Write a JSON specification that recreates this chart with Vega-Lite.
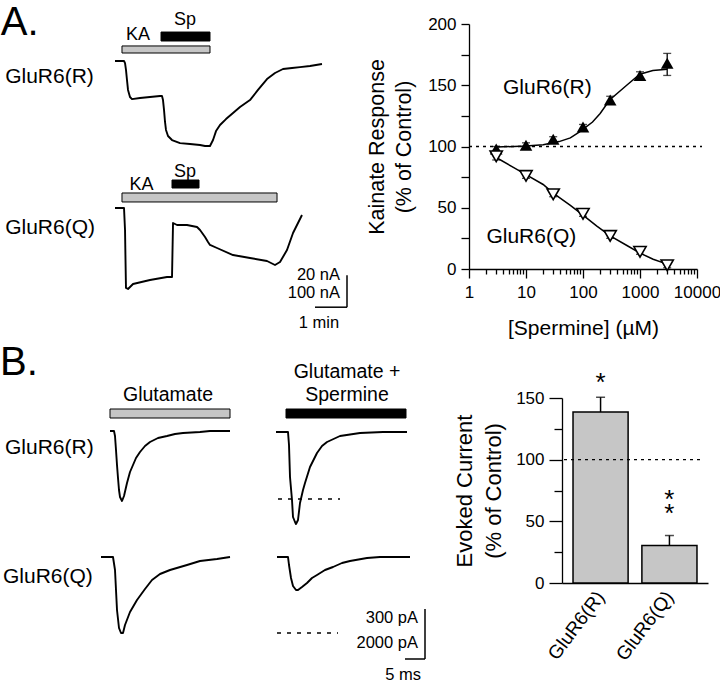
{
 "$schema": "https://vega.github.io/schema/vega-lite/v6.json",
 "width": 720,
 "height": 684,
 "padding": 0,
 "autosize": {"type": "none"},
 "background": "white",
 "config": {
   "font": "Liberation Sans",
   "view": {"stroke": null},
   "axis": {"grid": false, "domainColor": "black", "tickColor": "black", "labelColor": "black", "titleColor": "black", "titleFontWeight": "normal", "domainWidth": 1.3, "tickWidth": 1.3, "labelFont": "Liberation Sans", "titleFont": "Liberation Sans"},
   "text": {"font": "Liberation Sans", "color": "black"}
 },
 "datasets": {
   "aR": [{"t":0,"i":0},{"t":16.9,"i":0},{"t":18.8,"i":-1.3},{"t":20.6,"i":-5.6},{"t":22.5,"i":-11.9},{"t":24.4,"i":-18.1},{"t":28.1,"i":-22.5},{"t":31.9,"i":-23.8},{"t":46.9,"i":-23.1},{"t":65.6,"i":-22.5},{"t":84.4,"i":-21.9},{"t":88.1,"i":-21.9},{"t":90,"i":-24.4},{"t":91.9,"i":-30.6},{"t":93.8,"i":-38.1},{"t":95.6,"i":-43.1},{"t":99.4,"i":-46.9},{"t":106.9,"i":-49.4},{"t":121.9,"i":-51.3},{"t":140.6,"i":-51.9},{"t":159.4,"i":-52.5},{"t":168.8,"i":-53.1},{"t":178.1,"i":-53.1},{"t":183.8,"i":-49.4},{"t":189.4,"i":-43.8},{"t":196.9,"i":-40},{"t":208.1,"i":-36.3},{"t":221.3,"i":-32.5},{"t":234.4,"i":-28.8},{"t":253.1,"i":-24.4},{"t":268.1,"i":-18.1},{"t":285,"i":-11.3},{"t":300,"i":-7.5},{"t":315,"i":-5},{"t":331.9,"i":-4.4},{"t":346.9,"i":-3.8},{"t":365.6,"i":-3.1},{"t":388.1,"i":-1.9}],
   "aQ": [{"t":0,"i":0},{"t":16.9,"i":0},{"t":18.8,"i":-68.8},{"t":19.7,"i":-162.5},{"t":20.6,"i":-250},{"t":24.4,"i":-253},{"t":33.8,"i":-237.5},{"t":65.6,"i":-225},{"t":97.5,"i":-215.6},{"t":106.9,"i":-215.6},{"t":108.8,"i":-46.9},{"t":116.3,"i":-53.1},{"t":135,"i":-53.1},{"t":153.8,"i":-59.4},{"t":159.4,"i":-68.8},{"t":168.8,"i":-90.6},{"t":174.4,"i":-106.3},{"t":178.1,"i":-115.6},{"t":191.3,"i":-125},{"t":221.3,"i":-146.9},{"t":253.1,"i":-156.3},{"t":285,"i":-165.6},{"t":300,"i":-178.1},{"t":309.4,"i":-168.8},{"t":322.5,"i":-131.3},{"t":333.8,"i":-78.1},{"t":350.6,"i":-21.9}],
   "dose": [{"s":"R","c":3,"v":98,"lo":96,"hi":100},{"s":"R","c":10,"v":101,"lo":99,"hi":103},{"s":"R","c":30,"v":106,"lo":104,"hi":108},{"s":"R","c":100,"v":116,"lo":114,"hi":118},{"s":"R","c":300,"v":138,"lo":135,"hi":141},{"s":"R","c":1000,"v":158,"lo":155,"hi":161},{"s":"R","c":3000,"v":168,"lo":158,"hi":176},{"s":"Q","c":3,"v":92,"lo":89,"hi":95},{"s":"Q","c":10,"v":76,"lo":74,"hi":78},{"s":"Q","c":30,"v":61,"lo":59,"hi":63},{"s":"Q","c":100,"v":45,"lo":43,"hi":47},{"s":"Q","c":300,"v":27,"lo":25,"hi":29},{"s":"Q","c":1000,"v":14,"lo":12,"hi":16},{"s":"Q","c":3000,"v":3,"lo":1,"hi":5}],
   "fit": [{"s":"R","c":3,"v":99.5},{"s":"R","c":10,"v":100.5},{"s":"R","c":20,"v":101.5},{"s":"R","c":38,"v":104},{"s":"R","c":60,"v":107},{"s":"R","c":87,"v":112},{"s":"R","c":147,"v":120},{"s":"R","c":200,"v":127},{"s":"R","c":293,"v":138},{"s":"R","c":584,"v":150},{"s":"R","c":991,"v":159},{"s":"R","c":1680,"v":162},{"s":"R","c":3000,"v":163},{"s":"Q","c":3,"v":91},{"s":"Q","c":6,"v":83},{"s":"Q","c":10,"v":77},{"s":"Q","c":20,"v":69},{"s":"Q","c":30,"v":62},{"s":"Q","c":60,"v":52},{"s":"Q","c":100,"v":44},{"s":"Q","c":175,"v":35},{"s":"Q","c":300,"v":27},{"s":"Q","c":600,"v":19},{"s":"Q","c":1000,"v":13},{"s":"Q","c":1700,"v":8},{"s":"Q","c":3000,"v":4}],
   "bRg": [{"t":0,"i":0},{"t":1,"i":0},{"t":1.25,"i":-30},{"t":1.5,"i":-114},{"t":1.75,"i":-204},{"t":2,"i":-282},{"t":2.25,"i":-354},{"t":2.5,"i":-396},{"t":3,"i":-420},{"t":3.5,"i":-390},{"t":4.25,"i":-312},{"t":5,"i":-246},{"t":5.75,"i":-204},{"t":6.5,"i":-162},{"t":7.5,"i":-126},{"t":8.75,"i":-90},{"t":10,"i":-66},{"t":12,"i":-42},{"t":14.25,"i":-30},{"t":16.25,"i":-18},{"t":18.25,"i":-12},{"t":22.5,"i":-6},{"t":25,"i":0},{"t":30,"i":0}],
   "bRs": [{"t":0,"i":0},{"t":3,"i":0},{"t":3.25,"i":-78},{"t":3.5,"i":-270},{"t":4,"i":-408},{"t":4.25,"i":-510},{"t":4.75,"i":-540},{"t":5,"i":-552},{"t":5.5,"i":-528},{"t":6,"i":-426},{"t":6.75,"i":-348},{"t":7.25,"i":-306},{"t":8.5,"i":-210},{"t":10.25,"i":-126},{"t":11.5,"i":-84},{"t":12.75,"i":-60},{"t":16,"i":-24},{"t":21,"i":-6},{"t":26.75,"i":0},{"t":32.75,"i":0}],
   "bQg": [{"t":-2.25,"i":0},{"t":0.75,"i":0},{"t":1.25,"i":-520},{"t":1.5,"i":-1320},{"t":1.75,"i":-2120},{"t":2.25,"i":-2840},{"t":2.75,"i":-3040},{"t":3.25,"i":-3040},{"t":3.75,"i":-2720},{"t":5,"i":-2200},{"t":6.75,"i":-1720},{"t":8.75,"i":-1280},{"t":10.5,"i":-920},{"t":12.5,"i":-680},{"t":15,"i":-520},{"t":19.25,"i":-320},{"t":22.5,"i":-160},{"t":26.75,"i":-80},{"t":30,"i":0}],
   "bQs": [{"t":0.25,"i":0},{"t":3,"i":0},{"t":3.25,"i":-320},{"t":3.75,"i":-840},{"t":4.25,"i":-1160},{"t":5,"i":-1320},{"t":5.5,"i":-1320},{"t":6.5,"i":-1200},{"t":7.75,"i":-1040},{"t":9,"i":-840},{"t":10.25,"i":-720},{"t":12.25,"i":-520},{"t":14.25,"i":-400},{"t":16.5,"i":-240},{"t":18.5,"i":-160},{"t":22.75,"i":-40},{"t":26,"i":0},{"t":33.5,"i":0}],
   "bars": [{"g":"GluR6(R)","v":138.6,"hi":150.6},{"g":"GluR6(Q)","v":30.5,"hi":38.5}]
 },
 "resolve": {"scale": {"x": "independent", "y": "independent"}},
 "layer": [
  {"layer": [
    {"data": {"name": "aR"}, "mark": {"type": "line", "color": "black", "strokeWidth": 1.9, "strokeJoin": "round"},
     "encoding": {"x": {"field": "t", "type": "quantitative", "scale": {"domain": [0, 450], "range": [115, 355], "nice": false}, "axis": null},
                  "y": {"field": "i", "type": "quantitative", "scale": {"domain": [-60, 40], "range": [157, -3], "nice": false}, "axis": null},
                  "order": {"value": null}}},
    {"data": {"values": [{"drug": "KA", "start": 13.1, "end": 178.1}]}, "mark": {"type": "rect", "fill": "#c6c6c6", "stroke": "black", "strokeWidth": 1},
     "encoding": {"x": {"field": "start", "type": "quantitative", "axis": null}, "x2": {"field": "end"}, "y": {"datum": 9.4, "axis": null}, "y2": {"datum": 5}}},
    {"data": {"values": [{"drug": "Sp", "start": 86.3, "end": 178.1}]}, "mark": {"type": "rect", "fill": "black", "stroke": "black", "strokeWidth": 1},
     "encoding": {"x": {"field": "start", "type": "quantitative", "axis": null}, "x2": {"field": "end"}, "y": {"datum": 18.1, "axis": null}, "y2": {"datum": 12.5}}},
    {"data": {"values": [{}]}, "mark": {"type": "text", "text": "A.", "fontSize": 40, "align": "left", "baseline": "alphabetic"},
     "encoding": {"x": {"datum": -214, "axis": null}, "y": {"datum": 16.3, "axis": null}}},
    {"data": {"values": [{}]}, "mark": {"type": "text", "text": "GluR6(R)", "fontSize": 21, "align": "left", "baseline": "middle"},
     "encoding": {"x": {"datum": -206, "axis": null}, "y": {"datum": -10, "axis": null}}},
    {"data": {"values": [{}]}, "mark": {"type": "text", "text": "KA", "fontSize": 18, "align": "center", "baseline": "middle"},
     "encoding": {"x": {"datum": 43.1, "axis": null}, "y": {"datum": 16.3, "axis": null}}},
    {"data": {"values": [{}]}, "mark": {"type": "text", "text": "Sp", "fontSize": 18, "align": "center", "baseline": "middle"},
     "encoding": {"x": {"datum": 131.3, "axis": null}, "y": {"datum": 25.6, "axis": null}}}
  ]},
  {"layer": [
    {"data": {"name": "aQ"}, "mark": {"type": "line", "color": "black", "strokeWidth": 1.9, "strokeJoin": "round"},
     "encoding": {"x": {"field": "t", "type": "quantitative", "scale": {"domain": [0, 450], "range": [115, 355], "nice": false}, "axis": null},
                  "y": {"field": "i", "type": "quantitative", "scale": {"domain": [-400, 100], "range": [336, 176], "nice": false}, "axis": null},
                  "order": {"value": null}}},
    {"data": {"values": [{"drug": "KA", "start": 13.1, "end": 303.8}]}, "mark": {"type": "rect", "fill": "#c6c6c6", "stroke": "black", "strokeWidth": 1},
     "encoding": {"x": {"field": "start", "type": "quantitative", "axis": null}, "x2": {"field": "end"}, "y": {"datum": 46.9, "axis": null}, "y2": {"datum": 18.8}}},
    {"data": {"values": [{"drug": "Sp", "start": 106.9, "end": 157.5}]}, "mark": {"type": "rect", "fill": "black", "stroke": "black", "strokeWidth": 1},
     "encoding": {"x": {"field": "start", "type": "quantitative", "axis": null}, "x2": {"field": "end"}, "y": {"datum": 87.5, "axis": null}, "y2": {"datum": 62.5}}},
    {"data": {"values": [{}]}, "mark": {"type": "text", "text": "GluR6(Q)", "fontSize": 21, "align": "left", "baseline": "middle"},
     "encoding": {"x": {"datum": -206, "axis": null}, "y": {"datum": -62.5, "axis": null}}},
    {"data": {"values": [{}]}, "mark": {"type": "text", "text": "KA", "fontSize": 18, "align": "center", "baseline": "middle"},
     "encoding": {"x": {"datum": 49.7, "axis": null}, "y": {"datum": 71.9, "axis": null}}},
    {"data": {"values": [{}]}, "mark": {"type": "text", "text": "Sp", "fontSize": 18, "align": "center", "baseline": "middle"},
     "encoding": {"x": {"datum": 131.3, "axis": null}, "y": {"datum": 113, "axis": null}}},
    {"data": {"values": [{}]}, "mark": {"type": "rule", "color": "black", "strokeWidth": 1.5},
     "encoding": {"x": {"datum": 435, "axis": null}, "y": {"datum": -210, "axis": null}, "y2": {"datum": -310}}},
    {"data": {"values": [{}]}, "mark": {"type": "rule", "color": "black", "strokeWidth": 1.5},
     "encoding": {"x": {"datum": 375, "axis": null}, "x2": {"datum": 435}, "y": {"datum": -310, "axis": null}}},
    {"data": {"values": [{}]}, "mark": {"type": "text", "text": "20 nA", "fontSize": 16.5, "align": "right", "baseline": "middle"},
     "encoding": {"x": {"datum": 421.9, "axis": null}, "y": {"datum": -209, "axis": null}}},
    {"data": {"values": [{}]}, "mark": {"type": "text", "text": "100 nA", "fontSize": 16.5, "align": "right", "baseline": "middle"},
     "encoding": {"x": {"datum": 421.9, "axis": null}, "y": {"datum": -265.6, "axis": null}}},
    {"data": {"values": [{}]}, "mark": {"type": "text", "text": "1 min", "fontSize": 16.5, "align": "center", "baseline": "middle"},
     "encoding": {"x": {"datum": 382.5, "axis": null}, "y": {"datum": -359, "axis": null}}}
  ]},
  {"layer": [
    {"data": {"values": [{}]}, "mark": {"type": "rule", "color": "black", "strokeWidth": 1.3, "strokeDash": [3, 4]},
     "encoding": {"x": {"datum": 0, "type": "quantitative", "scale": {"domain": [0, 1], "range": [469, 702], "nice": false}, "axis": null},
                  "x2": {"datum": 1},
                  "y": {"datum": 100, "type": "quantitative", "scale": {"domain": [0, 200], "range": [269, 24], "nice": false}, "axis": null}}}
  ]},
  {"resolve": {"axis": {"x": "independent", "y": "independent"}},
   "layer": [
    {"data": {"name": "fit"}, "mark": {"type": "line", "color": "black", "strokeWidth": 1.5},
     "encoding": {
       "x": {"field": "c", "type": "quantitative", "scale": {"type": "log", "domain": [1, 10000], "range": [469, 697], "nice": false},
             "axis": {"orient": "bottom", "offset": -415, "values": [1,2,3,4,5,6,7,8,9,10,20,30,40,50,60,70,80,90,100,200,300,400,500,600,700,800,900,1000,2000,3000,4000,5000,6000,7000,8000,9000,10000],
                      "format": "d", "labelExpr": "indexof([1,10,100,1000,10000], datum.value) >= 0 ? datum.label : ''",
                      "tickSize": {"condition": {"test": "indexof([1,10,100,1000,10000], datum.value) >= 0", "value": 9}, "value": 5},
                      "labelFontSize": 17, "labelPadding": 6, "labelFlush": false, "labelOverlap": false, "title": "[Spermine] (µM)", "titleFontSize": 21, "titlePadding": 17}},
       "y": {"field": "v", "type": "quantitative", "scale": {"domain": [0, 200], "range": [269, 24], "nice": false},
             "axis": {"orient": "left", "offset": -469, "values": [0, 25, 50, 75, 100, 125, 150, 175, 200], "labelExpr": "datum.value % 50 == 0 ? datum.label : ''", "tickSize": 8, "labelFontSize": 17, "labelPadding": 5, "title": ["Kainate Response", "(% of Control)"], "titleFontSize": 21.5, "titlePadding": 12, "titleLineHeight": 27}},
       "detail": {"field": "s"}}},
    {"data": {"name": "dose"}, "mark": {"type": "rule", "color": "black", "strokeWidth": 1.3},
     "encoding": {"x": {"field": "c", "type": "quantitative", "axis": null},
                  "y": {"field": "lo", "type": "quantitative", "axis": null}, "y2": {"field": "hi"}}},
    {"data": {"name": "dose"}, "mark": {"type": "tick", "orient": "horizontal", "size": 8, "thickness": 1.3, "color": "black"},
     "encoding": {"x": {"field": "c", "type": "quantitative", "axis": null},
                  "y": {"field": "hi", "type": "quantitative", "axis": null}}},
    {"data": {"name": "dose"}, "mark": {"type": "tick", "orient": "horizontal", "size": 8, "thickness": 1.3, "color": "black"},
     "encoding": {"x": {"field": "c", "type": "quantitative", "axis": null},
                  "y": {"field": "lo", "type": "quantitative", "axis": null}}},
    {"data": {"name": "dose"}, "transform": [{"filter": "datum.s == 'R'"}],
     "mark": {"type": "point", "shape": "triangle-up", "filled": true, "color": "black", "size": 160, "opacity": 1},
     "encoding": {"x": {"field": "c", "type": "quantitative", "axis": null},
                  "y": {"field": "v", "type": "quantitative", "axis": null}}},
    {"data": {"name": "dose"}, "transform": [{"filter": "datum.s == 'Q'"}],
     "mark": {"type": "point", "shape": "triangle-down", "filled": true, "fill": "white", "stroke": "black", "strokeWidth": 1.6, "size": 150, "opacity": 1},
     "encoding": {"x": {"field": "c", "type": "quantitative", "axis": null},
                  "y": {"field": "v", "type": "quantitative", "axis": null}}},
    {"data": {"values": [{}]}, "mark": {"type": "text", "text": "GluR6(R)", "fontSize": 21, "align": "center", "baseline": "middle"},
     "encoding": {"x": {"datum": 23.7, "type": "quantitative", "axis": null}, "y": {"datum": 147.8, "axis": null}}},
    {"data": {"values": [{}]}, "mark": {"type": "text", "text": "GluR6(Q)", "fontSize": 21, "align": "center", "baseline": "middle"},
     "encoding": {"x": {"datum": 12.4, "type": "quantitative", "axis": null}, "y": {"datum": 26, "axis": null}}}
  ]},
  {"layer": [
    {"data": {"name": "bRg"}, "mark": {"type": "line", "color": "black", "strokeWidth": 1.9, "strokeJoin": "round"},
     "encoding": {"x": {"field": "t", "type": "quantitative", "scale": {"domain": [0, 40], "range": [110, 270], "nice": false}, "axis": null},
                  "y": {"field": "i", "type": "quantitative", "scale": {"domain": [-600, 300], "range": [531, 381], "nice": false}, "axis": null},
                  "order": {"value": null}}},
    {"data": {"values": [{"drug": "Glutamate", "start": 0, "end": 30}]}, "mark": {"type": "rect", "fill": "#c6c6c6", "stroke": "black", "strokeWidth": 1},
     "encoding": {"x": {"field": "start", "type": "quantitative", "axis": null}, "x2": {"field": "end"}, "y": {"datum": 132, "axis": null}, "y2": {"datum": 78}}},
    {"data": {"values": [{}]}, "mark": {"type": "text", "text": "Glutamate", "fontSize": 19.5, "align": "center", "baseline": "middle"},
     "encoding": {"x": {"datum": 14.5, "axis": null}, "y": {"datum": 216, "axis": null}}},
    {"data": {"values": [{}]}, "mark": {"type": "text", "text": "B.", "fontSize": 40, "align": "left", "baseline": "alphabetic"},
     "encoding": {"x": {"datum": -27.5, "axis": null}, "y": {"datum": 336, "axis": null}}},
    {"data": {"values": [{}]}, "mark": {"type": "text", "text": "GluR6(R)", "fontSize": 21, "align": "left", "baseline": "middle"},
     "encoding": {"x": {"datum": -26.25, "axis": null}, "y": {"datum": -102, "axis": null}}}
  ]},
  {"layer": [
    {"data": {"name": "bRs"}, "mark": {"type": "line", "color": "black", "strokeWidth": 1.9, "strokeJoin": "round"},
     "encoding": {"x": {"field": "t", "type": "quantitative", "scale": {"domain": [0, 40], "range": [276, 436], "nice": false}, "axis": null},
                  "y": {"field": "i", "type": "quantitative", "scale": {"domain": [-600, 300], "range": [532, 382], "nice": false}, "axis": null},
                  "order": {"value": null}}},
    {"data": {"values": [{"drug": "Glutamate + Spermine", "start": 2.5, "end": 32.5}]}, "mark": {"type": "rect", "fill": "black", "stroke": "black", "strokeWidth": 1},
     "encoding": {"x": {"field": "start", "type": "quantitative", "axis": null}, "x2": {"field": "end"}, "y": {"datum": 138, "axis": null}, "y2": {"datum": 84}}},
    {"data": {"values": [{}]}, "mark": {"type": "text", "text": "Glutamate +", "fontSize": 19.5, "align": "center", "baseline": "middle"},
     "encoding": {"x": {"datum": 17.75, "axis": null}, "y": {"datum": 360, "axis": null}}},
    {"data": {"values": [{}]}, "mark": {"type": "text", "text": "Spermine", "fontSize": 19.5, "align": "center", "baseline": "middle"},
     "encoding": {"x": {"datum": 17.75, "axis": null}, "y": {"datum": 222, "axis": null}}},
    {"data": {"values": [{}]}, "mark": {"type": "rule", "color": "black", "strokeWidth": 1.3, "strokeDash": [4, 6]},
     "encoding": {"x": {"datum": 0.5, "axis": null}, "x2": {"datum": 16}, "y": {"datum": -402, "axis": null}}}
  ]},
  {"layer": [
    {"data": {"name": "bQg"}, "mark": {"type": "line", "color": "black", "strokeWidth": 1.9, "strokeJoin": "round"},
     "encoding": {"x": {"field": "t", "type": "quantitative", "scale": {"domain": [0, 40], "range": [110, 270], "nice": false}, "axis": null},
                  "y": {"field": "i", "type": "quantitative", "scale": {"domain": [-4000, 1000], "range": [657, 532], "nice": false}, "axis": null},
                  "order": {"value": null}}},
    {"data": {"values": [{}]}, "mark": {"type": "text", "text": "GluR6(Q)", "fontSize": 21, "align": "left", "baseline": "middle"},
     "encoding": {"x": {"datum": -26.75, "axis": null}, "y": {"datum": -800, "axis": null}}}
  ]},
  {"layer": [
    {"data": {"name": "bQs"}, "mark": {"type": "line", "color": "black", "strokeWidth": 1.9, "strokeJoin": "round"},
     "encoding": {"x": {"field": "t", "type": "quantitative", "scale": {"domain": [0, 40], "range": [276, 436], "nice": false}, "axis": null},
                  "y": {"field": "i", "type": "quantitative", "scale": {"domain": [-4000, 1000], "range": [657, 532], "nice": false}, "axis": null},
                  "order": {"value": null}}},
    {"data": {"values": [{}]}, "mark": {"type": "rule", "color": "black", "strokeWidth": 1.3, "strokeDash": [4, 6]},
     "encoding": {"x": {"datum": 0.25, "axis": null}, "x2": {"datum": 15.5}, "y": {"datum": -3040, "axis": null}}},
    {"data": {"values": [{}]}, "mark": {"type": "rule", "color": "black", "strokeWidth": 1.5},
     "encoding": {"x": {"datum": 37.25, "axis": null}, "y": {"datum": -2080, "axis": null}, "y2": {"datum": -4080}}},
    {"data": {"values": [{}]}, "mark": {"type": "rule", "color": "black", "strokeWidth": 1.5},
     "encoding": {"x": {"datum": 32.25, "axis": null}, "x2": {"datum": 37.25}, "y": {"datum": -4080, "axis": null}}},
    {"data": {"values": [{}]}, "mark": {"type": "text", "text": "300 pA", "fontSize": 16.5, "align": "right", "baseline": "middle"},
     "encoding": {"x": {"datum": 35.5, "axis": null}, "y": {"datum": -2440, "axis": null}}},
    {"data": {"values": [{}]}, "mark": {"type": "text", "text": "2000 pA", "fontSize": 16.5, "align": "right", "baseline": "middle"},
     "encoding": {"x": {"datum": 35.5, "axis": null}, "y": {"datum": -3440, "axis": null}}},
    {"data": {"values": [{}]}, "mark": {"type": "text", "text": "5 ms", "fontSize": 16.5, "align": "center", "baseline": "middle"},
     "encoding": {"x": {"datum": 31.75, "axis": null}, "y": {"datum": -4720, "axis": null}}}
  ]},
  {"resolve": {"axis": {"x": "independent", "y": "independent"}},
   "layer": [
    {"data": {"name": "bars"}, "mark": {"type": "bar", "fill": "#c6c6c6", "stroke": "black", "strokeWidth": 1.5},
     "encoding": {
       "x": {"field": "g", "type": "nominal", "sort": null, "scale": {"domain": ["GluR6(R)", "GluR6(Q)"], "range": [562, 708], "paddingInner": 0.2, "paddingOuter": 0.16},
             "axis": {"orient": "bottom", "offset": -101, "labelAngle": -53, "labelAlign": "right", "labelBaseline": "middle", "ticks": false, "labelPadding": 10, "labelFontSize": 19, "title": null}},
       "y": {"field": "v", "type": "quantitative", "scale": {"domain": [0, 150], "range": [583, 398], "nice": false},
             "axis": {"orient": "left", "offset": -562, "values": [0, 25, 50, 75, 100, 125, 150], "labelExpr": "datum.value % 50 == 0 ? datum.label : ''",
                      "tickSize": {"condition": {"test": "datum.value % 50 == 0", "value": 13}, "value": 8},
                      "labelFontSize": 17, "labelPadding": 5, "title": ["Evoked Current", "(% of Control)"], "titleFontSize": 22, "titlePadding": 10, "titleLineHeight": 29}}}},
    {"data": {"name": "bars"}, "mark": {"type": "rule", "color": "black", "strokeWidth": 1.5},
     "encoding": {"x": {"field": "g", "type": "nominal", "axis": null},
                  "y": {"field": "v", "type": "quantitative", "axis": null},
                  "y2": {"field": "hi"}}},
    {"data": {"name": "bars"}, "mark": {"type": "tick", "orient": "horizontal", "size": 9, "thickness": 1.5, "color": "black"},
     "encoding": {"x": {"field": "g", "type": "nominal", "axis": null}, "y": {"field": "hi", "type": "quantitative", "axis": null}}},
    {"data": {"values": [{}]}, "mark": {"type": "text", "text": "*", "fontSize": 26, "align": "center", "baseline": "alphabetic"},
     "encoding": {"x": {"datum": "GluR6(R)", "axis": null}, "y": {"datum": 156, "axis": null}}},
    {"data": {"values": [{}]}, "mark": {"type": "text", "text": ["*", "*"], "lineHeight": 14, "fontSize": 26, "align": "center", "baseline": "middle"},
     "encoding": {"x": {"datum": "GluR6(Q)", "axis": null}, "y": {"datum": 67.5, "axis": null}}}
  ]},
  {"layer": [
    {"data": {"values": [{}]}, "mark": {"type": "rule", "color": "black", "strokeWidth": 1.3, "strokeDash": [3, 4]},
     "encoding": {"x": {"datum": 0, "type": "quantitative", "scale": {"domain": [0, 1], "range": [564, 703], "nice": false}, "axis": null},
                  "x2": {"datum": 1},
                  "y": {"datum": 100, "type": "quantitative", "scale": {"domain": [0, 150], "range": [583, 398], "nice": false}, "axis": null}}}
  ]}
 ]
}
